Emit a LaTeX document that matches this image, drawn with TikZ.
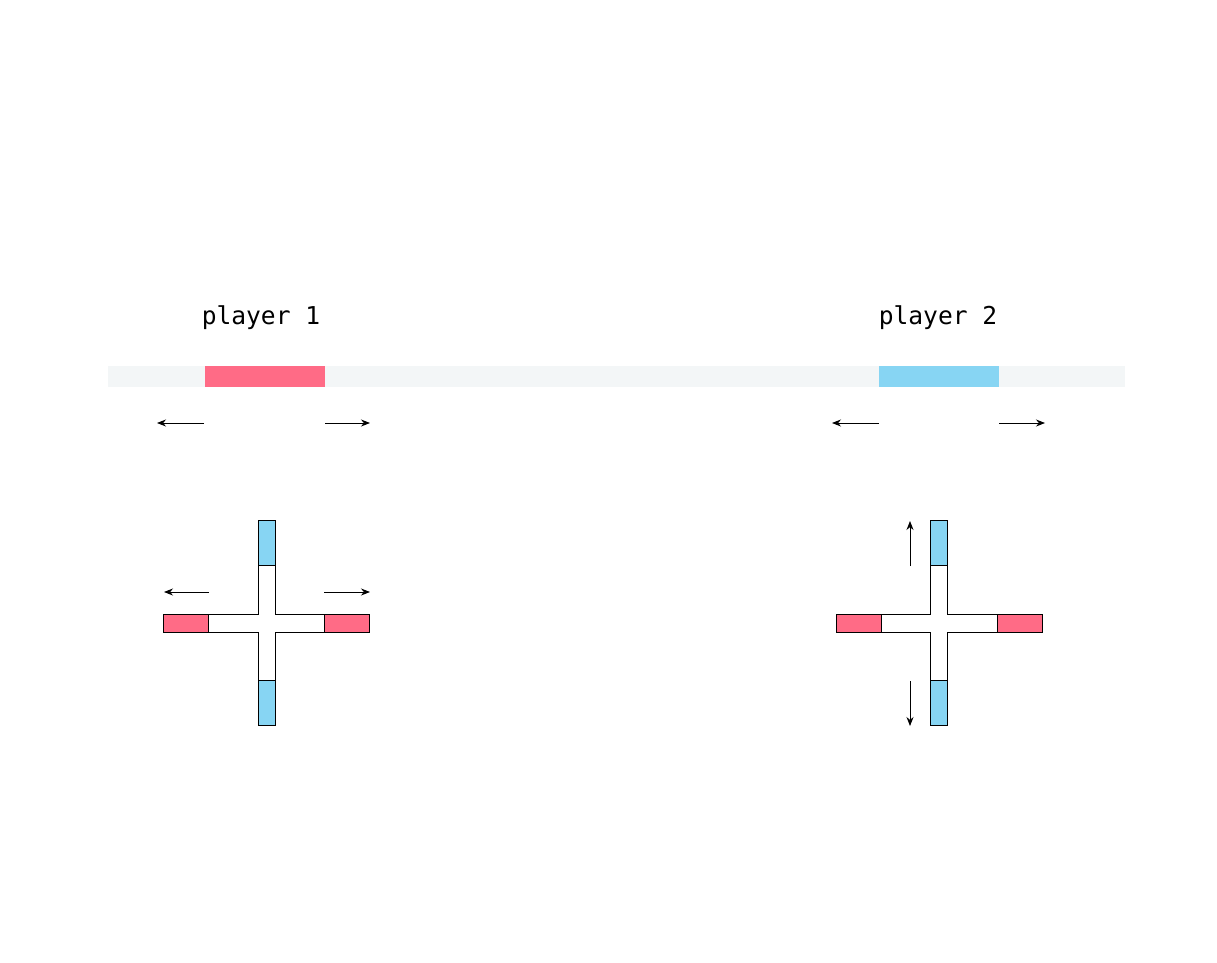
\documentclass[tikz,border=0pt]{standalone}
\usepackage{fontspec}
\setmonofont{DejaVu Sans Mono}
\usetikzlibrary{arrows.meta,positioning}
\definecolor{pred}{HTML}{FF6B86}
\definecolor{pblue}{HTML}{87D5F3}
\definecolor{trackgray}{HTML}{F3F6F7}
\tikzset{
  trackbar/.style = {fill=trackgray, draw=none},
  plabel/.style   = {font=\ttfamily\fontsize{14}{16}\selectfont, inner sep=0pt},
  arm/.style      = {draw=black, line width=0.5pt, fill=white},
  mv/.style       = {-{Stealth[length=1.8mm,width=1.4mm]}, line width=0.5pt},
}

\begin{document}
\begin{tikzpicture}[x=0.02cm,y=-0.02cm]
  \useasboundingbox (0,0) rectangle (1217,963);
  % the shared track
  \fill[trackbar] (108,366) rectangle (1125,387);
  \fill[pred]  (205,366) rectangle (325,387);
  \fill[pblue] (879,366) rectangle (999,387);
  \node[plabel] (lab1) at (261,318) {player 1};
  \node[plabel] (lab2) at (938,318) {player 2};
  % moves along the track
  \coordinate (t1a) at (204,423); \coordinate (t1b) at (157,423);
  \coordinate (t1c) at (325,423); \coordinate (t1d) at (370,423);
  \coordinate (t2a) at (879,423); \coordinate (t2b) at (832,423);
  \coordinate (t2c) at (999,423); \coordinate (t2d) at (1045,423);
  \draw[mv] (t1a) -- (t1b);
  \draw[mv] (t1c) -- (t1d);
  \draw[mv] (t2a) -- (t2b);
  \draw[mv] (t2c) -- (t2d);
  % the two crossings
  \foreach \cx in {266.5,939} {
    \begin{scope}[shift={(\cx,623)}]
      \draw[arm] (-8.5,-102.5) -- (8.5,-102.5) -- (8.5,-9) -- (103,-9) -- (103,9)
        -- (8.5,9) -- (8.5,102.5) -- (-8.5,102.5) -- (-8.5,9) -- (-103,9)
        -- (-103,-9) -- (-8.5,-9) -- cycle;
      \draw[arm,fill=pblue] (-8.5,-102.5) rectangle (8.5,-57.5);
      \draw[arm,fill=pblue] (-8.5,57.5) rectangle (8.5,102.5);
      \draw[arm,fill=pred] (-103,-9) rectangle (-58,9);
      \draw[arm,fill=pred] (58,-9) rectangle (103,9);
    \end{scope}
  }
  % moves at the crossings
  \coordinate (c1a) at (209,592); \coordinate (c1b) at (164,592);
  \coordinate (c1c) at (324,592); \coordinate (c1d) at (370,592);
  \coordinate (c2a) at (910,566); \coordinate (c2b) at (910,521);
  \coordinate (c2c) at (910,681); \coordinate (c2d) at (910,726);
  \draw[mv] (c1a) -- (c1b);
  \draw[mv] (c1c) -- (c1d);
  \draw[mv] (c2a) -- (c2b);
  \draw[mv] (c2c) -- (c2d);
\end{tikzpicture}
\end{document}
